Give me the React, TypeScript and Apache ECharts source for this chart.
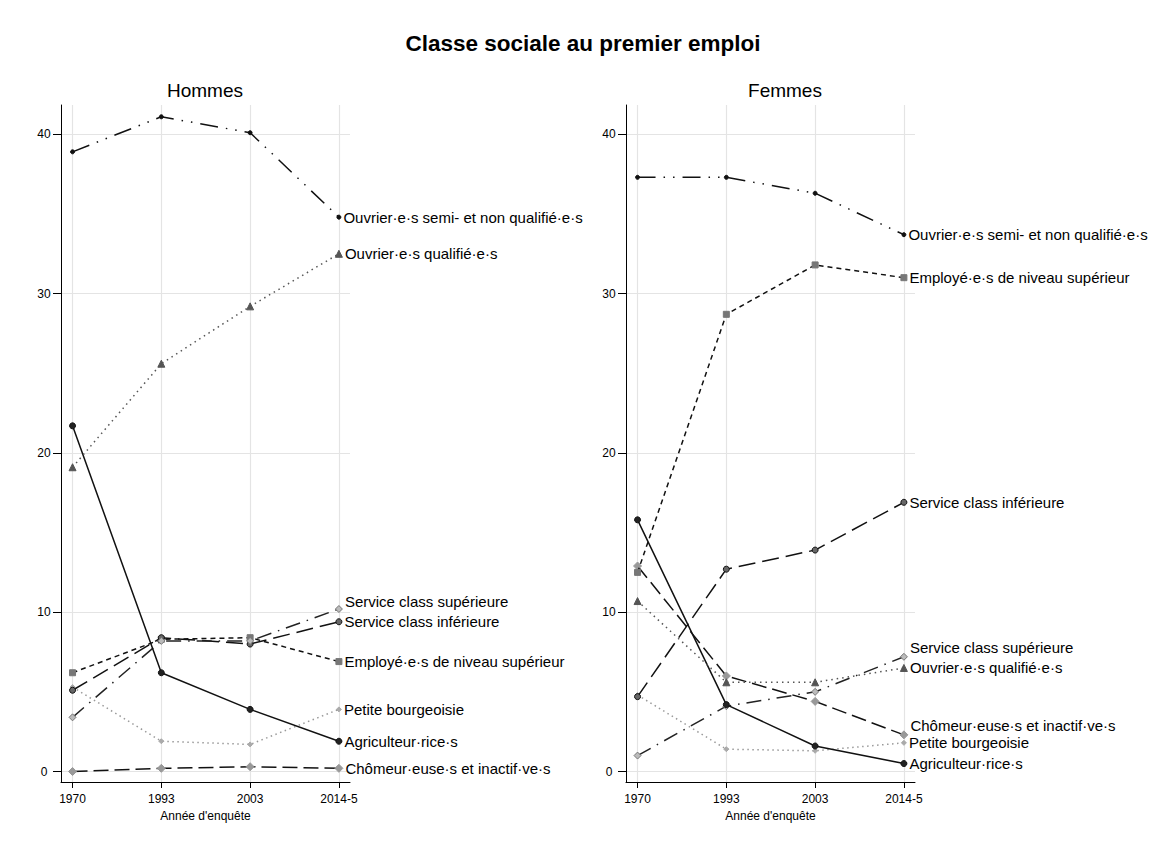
import React, { useEffect, useRef } from "react";
import * as echarts from "echarts";

const years = ["1970", "1993", "2003", "2014-5"];
const yTicks = [0, 10, 20, 30, 40];
const xTicks = [0, 1, 2, 3];

const chartTitle = "Classe sociale au premier emploi";
const panelTitles = ["Hommes", "Femmes"];
const xAxisTitle = "Année d'enquête";

const classNames = [
  "Ouvrier·e·s semi- et non qualifié·e·s",
  "Ouvrier·e·s qualifié·e·s",
  "Agriculteur·rice·s",
  "Service class supérieure",
  "Service class inférieure",
  "Employé·e·s de niveau supérieur",
  "Petite bourgeoisie",
  "Chômeur·euse·s et inactif·ve·s",
];

// Hommes
const hommesOuvrierSemi = [38.9, 41.1, 40.1, 34.8];
const hommesOuvrierQualifie = [19.1, 25.6, 29.2, 32.5];
const hommesAgriculteur = [21.7, 6.2, 3.9, 1.9];
const hommesServiceSup = [3.4, 8.2, 8.2, 10.2];
const hommesServiceInf = [5.1, 8.4, 8.0, 9.4];
const hommesEmploye = [6.2, 8.3, 8.4, 6.9];
const hommesPetiteBourgeoisie = [5.3, 1.9, 1.7, 3.9];
const hommesChomeur = [0.0, 0.2, 0.3, 0.2];

// Femmes
const femmesOuvrierSemi = [37.3, 37.3, 36.3, 33.7];
const femmesOuvrierQualifie = [10.7, 5.6, 5.6, 6.5];
const femmesAgriculteur = [15.8, 4.2, 1.6, 0.5];
const femmesServiceSup = [1.0, 4.1, 5.0, 7.2];
const femmesServiceInf = [4.7, 12.7, 13.9, 16.9];
const femmesEmploye = [12.5, 28.7, 31.8, 31.0];
const femmesPetiteBourgeoisie = [4.8, 1.4, 1.3, 1.8];
const femmesChomeur = [12.9, 6.0, 4.4, 2.3];

const hommesData = [
  hommesOuvrierSemi,
  hommesOuvrierQualifie,
  hommesAgriculteur,
  hommesServiceSup,
  hommesServiceInf,
  hommesEmploye,
  hommesPetiteBourgeoisie,
  hommesChomeur,
];
const femmesData = [
  femmesOuvrierSemi,
  femmesOuvrierQualifie,
  femmesAgriculteur,
  femmesServiceSup,
  femmesServiceInf,
  femmesEmploye,
  femmesPetiteBourgeoisie,
  femmesChomeur,
];

const FONT = "'Liberation Sans', Arial, Helvetica, sans-serif";

// style per class (not data)
const styles = [
  { color: "#111", dash: [18, 8, 1.5, 8, 1.5, 8], symbol: "circle", size: 4, fill: "#111", border: "#111" },
  { color: "#555", dash: [1.5, 4], symbol: "triangle", size: 7, fill: "#555", border: "#555" },
  { color: "#111", dash: "solid", symbol: "circle", size: 6, fill: "#222", border: "#111" },
  { color: "#222", dash: [15, 7, 1.5, 7], symbol: "diamond", size: 7, fill: "#bbb", border: "#777" },
  { color: "#111", dash: [17, 7], symbol: "circle", size: 6, fill: "#666", border: "#111" },
  { color: "#111", dash: [5, 4], symbol: "rect", size: 6, fill: "#777", border: "#777" },
  { color: "#999", dash: [1.5, 3.5], symbol: "diamond", size: 5, fill: "#aaa", border: "#aaa" },
  { color: "#111", dash: [15, 6], symbol: "diamond", size: 8, fill: "#999", border: "#999" },
];

const labelShifts = [
  [0, 0, 0, -8, 0, 0, 0, 0],
  [0, 0, 0, -9, 0, 0, 0, -9],
];

const GRID_TOP = 105;
const GRID_H = 677;
const GRID_W = 289;
const GRID_LEFTS = [61, 626];
const Y_MIN = -0.659;
const Y_MAX = 41.84;
const X_MIN = -0.13;
const X_MAX = 3.125;

export default function App() {
  const ref = useRef<HTMLDivElement>(null);

  useEffect(() => {
    if (!ref.current) return;
    const chart = echarts.init(ref.current, null, { renderer: "svg" });

    const grids = GRID_LEFTS.map((left) => ({
      left,
      top: GRID_TOP,
      width: GRID_W,
      height: GRID_H,
      containLabel: false,
    }));

    const xAxes = [0, 1].map((i) => ({
      type: "value",
      gridIndex: i,
      min: X_MIN,
      max: X_MAX,
      name: xAxisTitle,
      nameLocation: "middle",
      nameGap: 23,
      nameTextStyle: { fontSize: 12, color: "#000", fontFamily: FONT },
      axisLine: { show: true, onZero: false, lineStyle: { color: "#000", width: 1 } },
      axisTick: { show: true, length: 6, customValues: xTicks, lineStyle: { color: "#000" } },
      axisLabel: {
        customValues: xTicks,
        margin: 11,
        fontSize: 12,
        color: "#000",
        fontFamily: FONT,
        formatter: (v: number) => years[Math.round(v)] ?? "",
      },
      splitLine: { show: true, lineStyle: { color: "#e4e4e4", width: 1.2 } },
    }));

    const yAxes = [0, 1].map((i) => ({
      type: "value",
      gridIndex: i,
      min: Y_MIN,
      max: Y_MAX,
      axisLine: { show: true, onZero: false, lineStyle: { color: "#000", width: 1 } },
      axisTick: { show: true, length: 8, customValues: yTicks, lineStyle: { color: "#000" } },
      axisLabel: {
        customValues: yTicks,
        margin: 17,
        align: "center",
        fontSize: 12,
        color: "#000",
        fontFamily: FONT,
      },
      splitLine: { show: true, lineStyle: { color: "#e4e4e4", width: 1.2 } },
    }));

    const series: any[] = [];
    [hommesData, femmesData].forEach((panel, p) => {
      panel.forEach((values, k) => {
        const st = styles[k];
        series.push({
          type: "line",
          name: classNames[k] + (p === 0 ? " (H)" : " (F)"),
          xAxisIndex: p,
          yAxisIndex: p,
          symbol: st.symbol,
          symbolSize: st.size,
          showSymbol: true,
          lineStyle: { color: st.color, width: 1.5, type: st.dash },
          itemStyle: { color: st.fill, borderColor: st.border, borderWidth: 1 },
          emphasis: { disabled: true },
          data: values.map((v, i) => {
            const item: any = { value: [i, v] };
            if (i === values.length - 1) {
              item.label = {
                show: true,
                position: "right",
                distance: 2,
                offset: [0, labelShifts[p][k]],
                formatter: classNames[k],
                fontSize: 15,
                color: "#000",
                fontFamily: FONT,
              };
            }
            return item;
          }),
          z: 10 - k,
        });
      });
    });

    chart.setOption({
      animation: false,
      backgroundColor: "#fff",
      textStyle: { fontFamily: FONT },
      grid: grids,
      xAxis: xAxes,
      yAxis: yAxes,
      series,
      graphic: [
        {
          type: "text",
          x: 583,
          y: 43,
          style: {
            text: chartTitle,
            fontSize: 22.5,
            fontWeight: "bold",
            fill: "#000",
            fontFamily: FONT,
            align: "center",
            verticalAlign: "middle",
          },
        },
        {
          type: "text",
          x: 205,
          y: 90,
          style: { text: panelTitles[0], fontSize: 19, fill: "#000", fontFamily: FONT, align: "center", verticalAlign: "middle" },
        },
        {
          type: "text",
          x: 785,
          y: 90,
          style: { text: panelTitles[1], fontSize: 19, fill: "#000", fontFamily: FONT, align: "center", verticalAlign: "middle" },
        },
      ],
    });

    return () => chart.dispose();
  }, []);

  return (
    <div
      ref={ref}
      style={{ position: "absolute", left: 0, top: 0, width: 1167, height: 857, background: "#fff" }}
    />
  );
}
